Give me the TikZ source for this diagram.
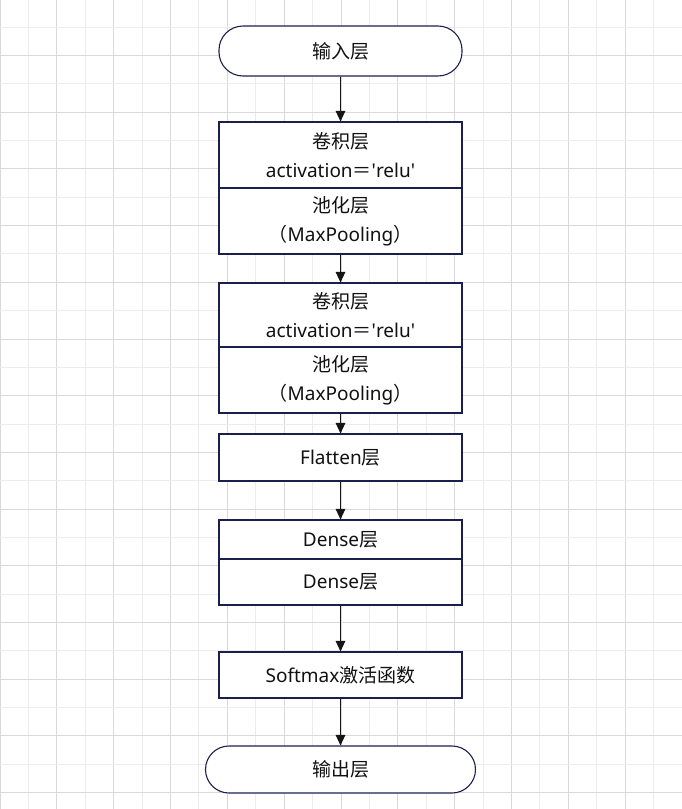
\documentclass[tikz,border=0pt]{standalone}
\usepackage{fontspec}
\setmainfont{Noto Sans}[Ligatures=ResetAll]
\newfontfamily\cjk{Noto Sans CJK SC}[Ligatures=ResetAll]
\usetikzlibrary{arrows.meta}
\definecolor{gridDark}{HTML}{D9D9D9}
\definecolor{gridLight}{HTML}{ECECEC}
\definecolor{boxLine}{HTML}{1B1F4D}
\definecolor{txt}{HTML}{111111}
\definecolor{arrowCol}{HTML}{151515}
\tikzset{
  box/.style={draw=boxLine, line width=1.1pt, fill=white, minimum width=243pt, inner sep=0pt,
    align=center, text=txt, font=\fontsize{19pt}{29pt}\selectfont},
  term/.style={box, rounded corners=24pt},
  arr/.style={draw=arrowCol, line width=1.2pt, -{Triangle[width=9.5pt,length=10.5pt]}},
}
\newcommand{\q}{\textquotesingle}
\begin{document}
\begin{tikzpicture}[x=1pt,y=-1pt]
\useasboundingbox[fill=white] (0,0) rectangle (682,809);
% grid
\foreach \k in {0,...,24}{
  \pgfmathtruncatemacro{\e}{mod(\k,2)}
  \ifnum\e=0 \def\gc{gridDark}\else\def\gc{gridLight}\fi
  \draw[\gc, line width=1pt] (\k*28.42,0) -- (\k*28.42,809);
}
\foreach \k in {1,...,28}{
  \pgfmathtruncatemacro{\e}{mod(\k,2)}
  \ifnum\e=0 \def\gc{gridDark}\else\def\gc{gridLight}\fi
  \draw[\gc, line width=1pt] (0,-1.2+\k*28.35) -- (682,-1.2+\k*28.35);
}
% nodes
\node[term, minimum height=50pt] (in) at (340.5,51) {{\cjk 输入层}};
\node[box, minimum height=66pt] (c1) at (340.5,155) {{\cjk 卷积层}\\activation{\cjk ＝}\q relu\q};
\node[box, minimum height=66pt] (p1) at (340.5,221) {{\cjk 池化层}\\{\cjk （}MaxPooling{\cjk ）}};
\node[box, minimum height=64pt] (c2) at (340.5,315) {{\cjk 卷积层}\\activation{\cjk ＝}\q relu\q};
\node[box, minimum height=66pt] (p2) at (340.5,380) {{\cjk 池化层}\\{\cjk （}MaxPooling{\cjk ）}};
\node[box, minimum height=47pt] (fl) at (340.5,457.5) {Flatten{\cjk 层}};
\node[box, minimum height=39pt] (d1) at (340.5,539.5) {Dense{\cjk 层}};
\node[box, minimum height=46pt] (d2) at (340.5,582) {Dense{\cjk 层}};
\node[box, minimum height=46pt] (sm) at (340.5,675) {Softmax{\cjk 激活函数}};
\node[term, minimum width=270pt, minimum height=47pt, rounded corners=23.5pt] (out) at (340.5,769.5) {{\cjk 输出层}};
% arrows
\draw[arr] (in.south) -- (c1.north);
\draw[arr] (p1.south) -- (c2.north);
\draw[arr] (p2.south) -- (fl.north);
\draw[arr] (fl.south) -- (d1.north);
\draw[arr] (d2.south) -- (sm.north);
\draw[arr] (sm.south) -- (out.north);
\end{tikzpicture}
\end{document}
